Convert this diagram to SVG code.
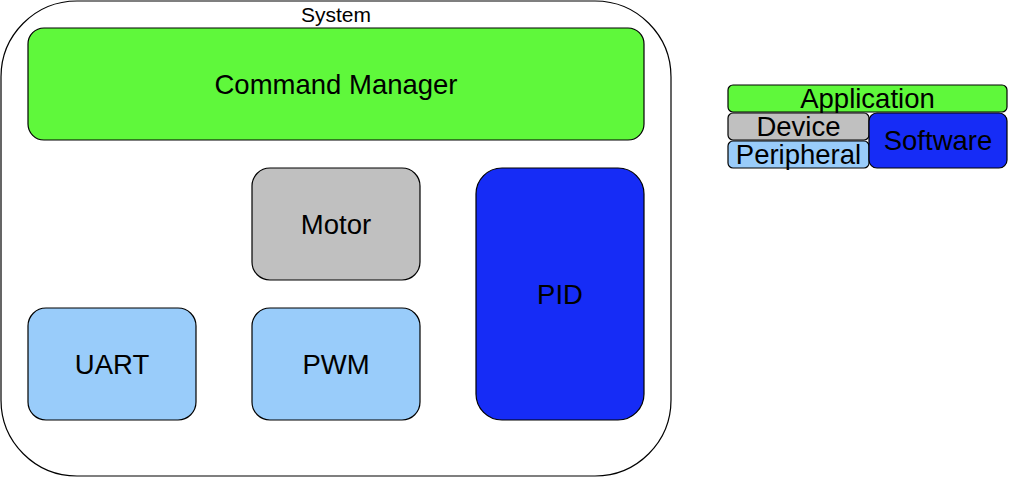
<svg xmlns="http://www.w3.org/2000/svg" width="1009" height="477" viewBox="0 0 1009 477">
<style>
rect{stroke:#000;stroke-width:1.2}
text{font-family:"Liberation Sans",Arial,sans-serif;font-size:27.5px;text-anchor:middle;fill:#000}
.app{fill:#5ff83b}
.dev{fill:#c0c0c0}
.per{fill:#99ccfa}
.sw{fill:#162cf6}
</style>
<rect width="1009" height="477" fill="#fff" style="stroke:none"/>
<g id="system">
<rect x="1" y="1" width="670" height="475" rx="76" ry="76" fill="#fff"/>
<text x="336" y="22" style="font-size:21px">System</text>
</g>
<g id="command-manager">
<rect class="app" x="28" y="28" width="616" height="112" rx="16" ry="16"/>
<text x="336" y="94">Command Manager</text>
</g>
<g id="motor">
<rect class="dev" x="252" y="168" width="168" height="112" rx="18" ry="18"/>
<text x="336" y="234">Motor</text>
</g>
<g id="pwm">
<rect class="per" x="252" y="308" width="168" height="112" rx="18" ry="18"/>
<text x="336" y="374">PWM</text>
</g>
<g id="uart">
<rect class="per" x="28" y="308" width="168" height="112" rx="18" ry="18"/>
<text x="112" y="374">UART</text>
</g>
<g id="pid">
<rect class="sw" x="476" y="168" width="168" height="252" rx="26" ry="26"/>
<text x="560" y="304">PID</text>
</g>
<g id="legend-application">
<rect class="app" x="728" y="85" width="279" height="27" rx="5" ry="5"/>
<text x="867.5" y="108">Application</text>
</g>
<g id="legend-device">
<rect class="dev" x="728" y="113" width="141" height="27" rx="5" ry="5"/>
<text x="798.5" y="136">Device</text>
</g>
<g id="legend-peripheral">
<rect class="per" x="728" y="141" width="141" height="27" rx="5" ry="5"/>
<text x="798.5" y="164">Peripheral</text>
</g>
<g id="legend-software">
<rect class="sw" x="869" y="113" width="138" height="55" rx="8" ry="8"/>
<text x="938" y="150">Software</text>
</g>
<g id="connectors"></g>
</svg>
